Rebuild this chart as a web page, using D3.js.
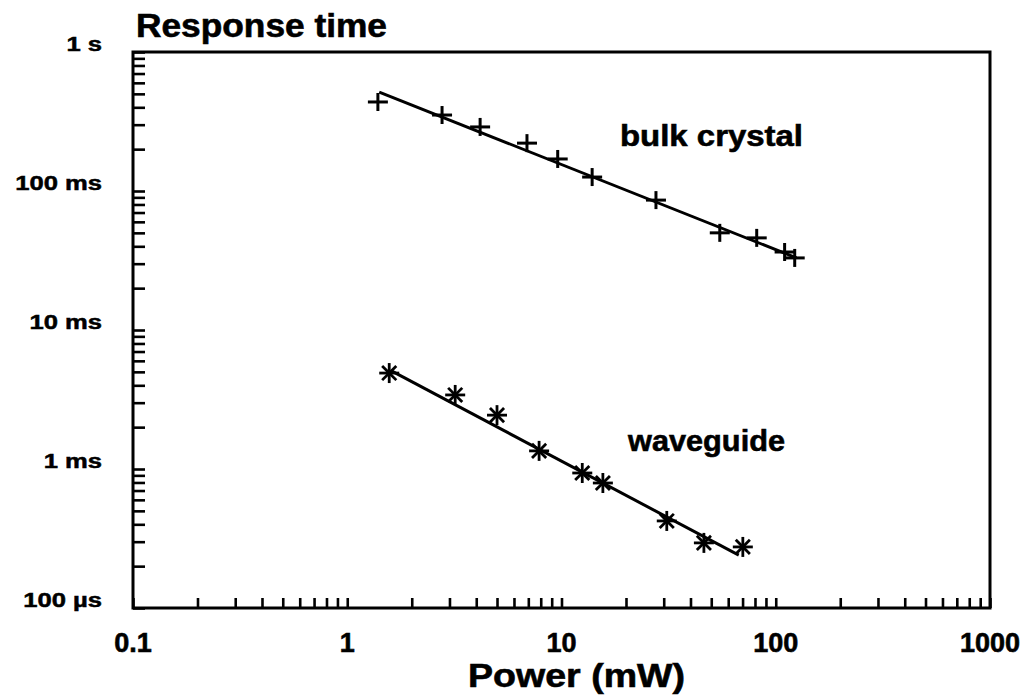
<!DOCTYPE html>
<html>
<head>
<meta charset="utf-8">
<script src="https://cdn.jsdelivr.net/npm/d3@7"></script>
<style>
  body { margin: 0; background: #fff; }
  text { font-family: "Liberation Sans", Arial, Helvetica, sans-serif; font-weight: bold; fill: #000; }
</style>
</head>
<body>
<div id="chart"></div>
<script>
// power in mW, response time in ms
const bulkPower = [1.39, 2.77, 4.17, 6.9, 9.6, 13.9, 27.6, 54.8, 81.5, 110, 122.6];
const bulkTime = [437, 352, 289, 221, 170, 126, 86, 50, 46, 36.4, 33];
const waveguidePower = [1.57, 3.19, 5.0, 7.86, 12.5, 15.6, 31, 46.2, 70.2];
const waveguideTime = [4.9, 3.41, 2.44, 1.35, 0.936, 0.793, 0.423, 0.294, 0.275];

// fitted power-law lines (end points)
const bulkFitPower = [1.41, 125];
const bulkFitTime = [515, 33];
const waveguideFitPower = [1.6, 67.2];
const waveguideFitTime = [5.1, 0.24];

const xTickValues = [0.1, 1, 10, 100, 1000];
const xTickLabels = ['0.1', '1', '10', '100', '1000'];
const yTickValues = [1000, 100, 10, 1, 0.1];
const yTickLabels = ['1 s', '100 ms', '10 ms', '1 ms', '100 µs'];

const width = 1025, height = 697;
const plotLeft = 133, plotRight = 990, plotTop = 52, plotBottom = 608;

const svg = d3.select('#chart').append('svg')
  .attr('width', width)
  .attr('height', height);

const x = d3.scaleLog().domain([0.1, 1000]).range([plotLeft, plotRight]);
const y = d3.scaleLog().domain([0.1, 1000]).range([plotBottom, plotTop]);

// minor + major ticks for every decade
const decadeTicks = (lo, hi) => {
  const t = [];
  for (let d = lo; d < hi; d *= 10) {
    for (let k = 1; k < 10; k++) t.push(d * k);
  }
  t.push(hi);
  return t;
};

const xAxis = d3.axisBottom(x)
  .tickValues(decadeTicks(0.1, 1000))
  .tickSize(-10)
  .tickFormat('');
const yAxis = d3.axisLeft(y)
  .tickValues(decadeTicks(0.1, 1000))
  .tickSize(-12)
  .tickFormat('');

const gx = svg.append('g').attr('transform', `translate(0,${plotBottom})`).call(xAxis);
const gy = svg.append('g').attr('transform', `translate(${plotLeft},0)`).call(yAxis);
[gx, gy].forEach(g => {
  g.select('.domain').remove();
  g.selectAll('.tick line').attr('stroke', '#000').attr('stroke-width', 2.6);
});

// frame
svg.append('rect')
  .attr('x', plotLeft).attr('y', plotTop)
  .attr('width', plotRight - plotLeft).attr('height', plotBottom - plotTop)
  .attr('fill', 'none').attr('stroke', '#000').attr('stroke-width', 3);

// tick labels
svg.selectAll('.xlab').data(xTickValues).enter().append('text')
  .attr('class', 'xlab')
  .attr('x', d => x(d))
  .attr('y', 652)
  .attr('text-anchor', 'middle')
  .style('font-size', '27px')
  .style('stroke', '#000').style('stroke-width', 0.6)
  .text((d, i) => xTickLabels[i]);

svg.selectAll('.ylab').data(yTickValues).enter().append('text')
  .attr('class', 'ylab')
  .attr('transform', d => `translate(102,${y(d) - 1}) scale(1.22,1)`)
  .attr('text-anchor', 'end')
  .style('font-size', '21px')
  .style('stroke', '#000').style('stroke-width', 0.5)
  .text((d, i) => yTickLabels[i]);

// titles
svg.append('text')
  .attr('x', 136).attr('y', 37)
  .attr('textLength', 251).attr('lengthAdjust', 'spacingAndGlyphs')
  .style('font-size', '33px')
  .style('stroke', '#000').style('stroke-width', 0.6)
  .text('Response time');

svg.append('text')
  .attr('x', 468).attr('y', 687)
  .attr('textLength', 217).attr('lengthAdjust', 'spacingAndGlyphs')
  .style('font-size', '33px')
  .style('stroke', '#000').style('stroke-width', 0.6)
  .text('Power (mW)');

svg.append('text')
  .attr('x', 620).attr('y', 146)
  .attr('textLength', 183).attr('lengthAdjust', 'spacingAndGlyphs')
  .style('font-size', '30px')
  .style('stroke', '#000').style('stroke-width', 0.6)
  .text('bulk crystal');

svg.append('text')
  .attr('x', 628).attr('y', 451)
  .attr('textLength', 157).attr('lengthAdjust', 'spacingAndGlyphs')
  .style('font-size', '30px')
  .style('stroke', '#000').style('stroke-width', 0.6)
  .text('waveguide');

// fit lines
const line = d3.line().x(d => x(d[0])).y(d => y(d[1]));
svg.append('path')
  .attr('d', line(d3.zip(bulkFitPower, bulkFitTime)))
  .attr('fill', 'none').attr('stroke', '#000').attr('stroke-width', 3);
svg.append('path')
  .attr('d', line(d3.zip(waveguideFitPower, waveguideFitTime)))
  .attr('fill', 'none').attr('stroke', '#000').attr('stroke-width', 3);

// plus markers
const plus = svg.append('g').selectAll('g')
  .data(d3.zip(bulkPower, bulkTime)).enter().append('g')
  .attr('transform', d => `translate(${x(d[0])},${y(d[1])})`);
plus.append('line').attr('x1', -10).attr('x2', 10).attr('y1', 0).attr('y2', 0);
plus.append('line').attr('x1', 0).attr('x2', 0).attr('y1', -9).attr('y2', 9);
plus.selectAll('line').attr('stroke', '#000').attr('stroke-width', 3);

// star markers
const star = svg.append('g').selectAll('g')
  .data(d3.zip(waveguidePower, waveguideTime)).enter().append('g')
  .attr('transform', d => `translate(${x(d[0])},${y(d[1])})`);
[0, 45, 90, 135].forEach(a => {
  star.append('line')
    .attr('x1', -10).attr('x2', 10).attr('y1', 0).attr('y2', 0)
    .attr('transform', `rotate(${a})`)
    .attr('stroke', '#000').attr('stroke-width', 2.8);
});
</script>
</body>
</html>
